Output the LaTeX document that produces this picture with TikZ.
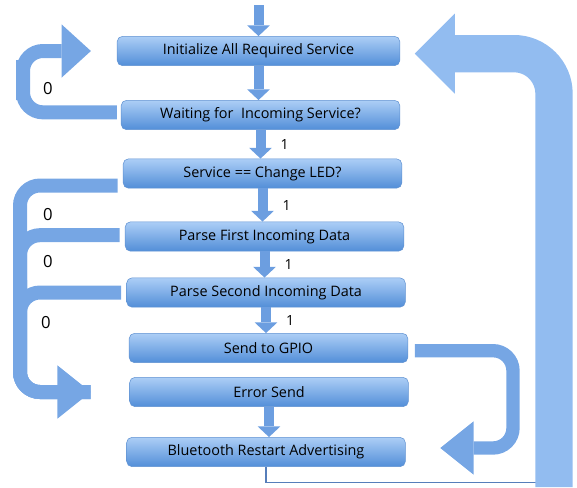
\documentclass[tikz,border=0pt]{standalone}
\usepackage{fontspec}
\setmainfont{Open Sans}
\usetikzlibrary{arrows.meta}
\definecolor{boxtop}{RGB}{172,206,246}
\definecolor{boxbot}{RGB}{82,142,216}
\definecolor{boxline}{RGB}{96,146,210}
\definecolor{arrcol}{RGB}{108,158,224}
\definecolor{ribcol}{RGB}{118,166,228}
\definecolor{bigcol}{RGB}{146,188,240}
\definecolor{thincol}{RGB}{86,126,186}

\begin{document}
\begin{tikzpicture}[
x=0.75pt, y=-0.75pt,
mybox/.style={
rectangle,
rounded corners=4pt,
draw=boxline,
top color=boxtop,
bottom color=boxbot,
minimum width=209pt,
minimum height=22pt,
inner sep=0pt,
font=\fontsize{10.8}{12}\selectfont},
smallarrow/.style={draw=arrcol, line width=7.5pt,
-{Triangle[width=17pt,length=8pt,line width=0pt]}},
ribbon/.style={draw=ribcol, line width=10.5pt, rounded corners=15pt},
bigribbon/.style={draw=bigcol, line width=28pt, rounded corners=30pt,
-{Triangle[width=60pt,length=30pt,line width=0pt]}},
thinline/.style={draw=thincol, line width=1.2pt},
onelbl/.style={right=8pt, font=\fontsize{10.5}{12}\selectfont},
zerolbl/.style={font=\fontsize{12.5}{14}\selectfont}
]
\useasboundingbox (0,0) rectangle (577,487);

\node[mybox, minimum width=212pt] (init) at (258.5,51) {Initialize All Required Service};
\node[mybox] (wait) at (260.5,115) {Waiting for\ \ Incoming Service?};
\node[mybox] (svc) at (262.5,173.5) {Service == Change LED?};
\node[mybox] (parse1) at (264.5,236.5) {Parse First Incoming Data};
\node[mybox] (parse2) at (266,292.5) {Parse Second Incoming Data};
\node[mybox] (gpio) at (268.5,348) {Send to GPIO};
\node[mybox] (err) at (269,392) {Error Send};
\node[mybox] (bt) at (266,452) {Bluetooth Restart Advertising};

% straight down arrows
\coordinate (start) at (258.5,5);
\draw[smallarrow] (start) -- (init.north);
\draw[smallarrow] (init.south) -- (init.south |- wait.north);
\foreach \a/\b in {wait/svc, svc/parse1, parse1/parse2, parse2/gpio}
  \draw[smallarrow] (\a.south) -- node[onelbl] {1} (\a.south |- \b.north);
\draw[smallarrow] (err.south) -- (err.south |- bt.north);

% the 0 branches
\draw[ribbon, -{Triangle[width=40pt,length=22pt,line width=0pt]}]
  ([xshift=-3pt,yshift=2pt]wait.west) -| (23,80) |- ([xshift=-19.5pt]init.west);
\draw[ribbon] ([xshift=-4pt,yshift=-9pt]svc.west) -| (20,300) |- ([xshift=-29pt]err.west);
\draw[ribbon] ([xshift=-4pt,yshift=1pt]parse1.west) -| (20,300) |- ([xshift=-29pt]err.west);
\draw[ribbon, -{Triangle[width=40pt,length=25pt,line width=0pt]}]
  ([xshift=-4pt]parse2.west) -| (20,300) |- ([xshift=-29pt]err.west);
\node[zerolbl] (z1) at (48,89) {0};
\node[zerolbl] (z2) at (48,215) {0};
\node[zerolbl] (z3) at (48,262) {0};
\node[zerolbl] (z4) at (46,323) {0};

% gpio to restart
\draw[ribbon, line width=10pt, -{Triangle[width=40pt,length=25pt,line width=0pt]}]
  ([xshift=5pt,yshift=-2pt]gpio.east) -| (513,400) |- ([xshift=26pt,yshift=3pt]bt.east);

% back to the start
\coordinate (bigfoot) at (554,487);
\draw[thinline] (bt.south) |- ([yshift=3.5pt]bigfoot);
\draw[bigribbon] (bigfoot) |- ([xshift=11pt,yshift=-2pt]init.east);
\end{tikzpicture}
\end{document}
